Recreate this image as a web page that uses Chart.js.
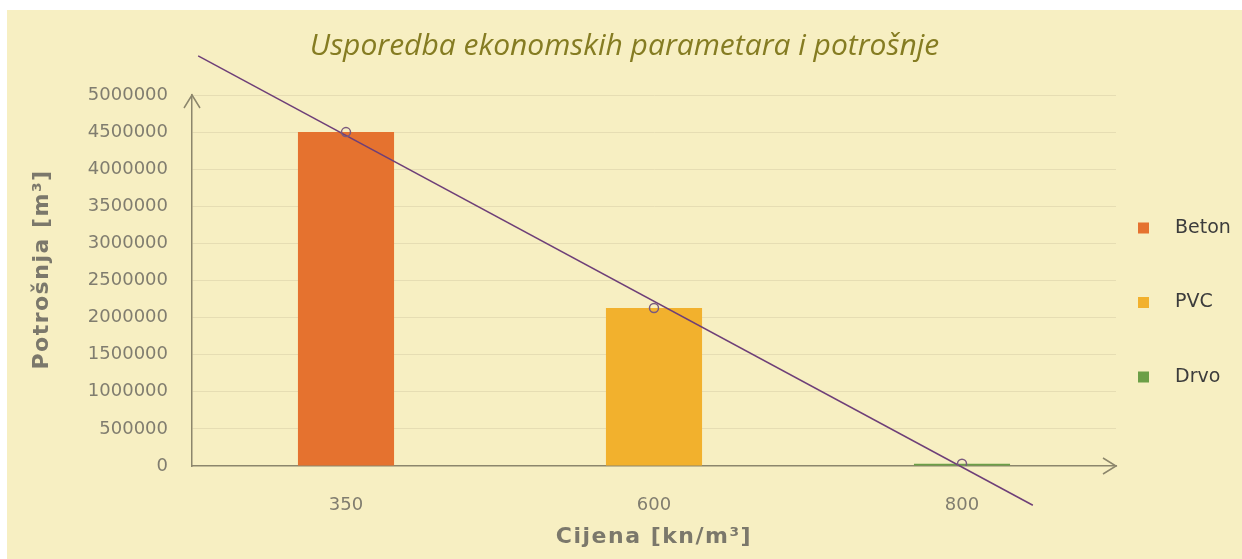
<!DOCTYPE html>
<html>
<head>
<meta charset="utf-8">
<script src="https://cdn.jsdelivr.net/npm/chart.js@4.4.0/dist/chart.umd.min.js"></script>
<style>
  html, body { margin: 0; padding: 0; background: #ffffff; }
  #wrap { position: absolute; left: 7px; top: 10px; width: 1235px; height: 549px; background: #f7efc2; }
</style>
</head>
<body>
<div id="wrap"><canvas id="myChart"></canvas></div>
<script>
// data
var categories = ['350', '600', '800'];
var materials = ['Beton', 'PVC', 'Drvo'];
var consumption = [4500000, 2130000, 30000];
var yMax = 5000000;
var yStep = 500000;

// styles
var barColors = ['#e5722f', '#f2b12d', '#6c9f47'];
var axisColor = '#8c866c';
var gridColor = '#e6ddb3';
var tickColor = '#807d6f';
var axisTitleColor = '#7b786b';

// linear trendline (least squares over category positions), drawn with forecast on both ends
function linearFit(values) {
    var n = values.length, sx = 0, sy = 0, sxx = 0, sxy = 0;
    values.forEach(function (v, i) {
        sx += i; sy += v; sxx += i * i; sxy += i * v;
    });
    var slope = (n * sxy - sx * sy) / (n * sxx - sx * sx);
    return { slope: slope, icpt: (sy - slope * sx) / n };
}
var fit = linearFit(consumption);
var trendFrom = -0.48, trendTo = 2.23;
var trendData = [trendFrom, trendTo].map(function (x) {
    return { x: x, y: fit.icpt + fit.slope * x };
});

// arrows, axis titles and legend
var decorations = {
    id: 'decorations',
    afterDraw: function (chart) {
        var c = chart.ctx, a = chart.chartArea;
        c.save();
        c.strokeStyle = axisColor;
        c.lineWidth = 1.5;
        c.beginPath();
        c.moveTo(a.left - 8, a.top + 13);
        c.lineTo(a.left, a.top);
        c.lineTo(a.left + 8, a.top + 13);
        c.moveTo(a.right - 13, a.bottom - 8);
        c.lineTo(a.right, a.bottom);
        c.lineTo(a.right - 13, a.bottom + 8);
        c.stroke();

        c.fillStyle = axisTitleColor;
        c.font = 'bold 22px "DejaVu Sans"';
        c.letterSpacing = '1.5px';
        c.textAlign = 'center';
        c.textBaseline = 'middle';
        c.fillText('Cijena [kn/m³]', (a.left + a.right) / 2, a.bottom + 71);
        c.save();
        c.translate(35, (a.top + a.bottom) / 2 - 11);
        c.rotate(-Math.PI / 2);
        c.fillText('Potrošnja [m³]', 0, 0);
        c.restore();

        c.letterSpacing = '0px';
        c.font = '19px "DejaVu Sans"';
        c.textAlign = 'left';
        materials.forEach(function (name, i) {
            var y = (a.top + a.bottom) / 2 + 22 + (i - 1) * 74.5;
            c.fillStyle = barColors[i];
            c.fillRect(a.right + 22, y - 5.5, 11, 11);
            c.fillStyle = '#3c3c3c';
            c.fillText(name, a.right + 59, y);
        });
        c.restore();
    }
};

var ctx = document.getElementById('myChart').getContext('2d');

var myChart = new Chart(ctx, {
    type: 'bar',
    data: {
        labels: categories,
        datasets: [{
            type: 'bar',
            label: 'Potrošnja',
            data: consumption,
            backgroundColor: barColors,
            grouped: false,
            categoryPercentage: 1,
            barPercentage: 0.312,
            order: 3
        }, {
            type: 'line',
            label: 'Trend',
            data: trendData,
            xAxisID: 'x2',
            borderColor: '#6e3f78',
            borderWidth: 1.5,
            pointRadius: 0,
            clip: false,
            order: 2
        }, {
            type: 'line',
            label: 'Točke',
            data: consumption,
            showLine: false,
            pointRadius: 4.5,
            pointBorderWidth: 1.5,
            pointBorderColor: '#7a5a7e',
            pointBackgroundColor: 'rgba(0, 0, 0, 0)',
            order: 1
        }]
    },
    options: {
        responsive: true,
        maintainAspectRatio: false,
        animation: false,
        layout: { padding: 0 },
        plugins: {
            legend: { display: false },
            tooltip: { enabled: false },
            title: {
                display: true,
                text: 'Usporedba ekonomskih parametara i potrošnje',
                color: '#857c22',
                font: { family: 'Open Sans', size: 30, style: 'italic', weight: 'normal', lineHeight: 1.2 },
                padding: { top: 18, bottom: 31 }
            }
        },
        scales: {
            x: {
                offset: true,
                grid: { display: false, drawTicks: false },
                border: { color: axisColor, width: 1.5 },
                ticks: { padding: 29, color: tickColor, font: { family: 'DejaVu Sans', size: 18 } },
                afterFit: function (scale) { scale.height = 93; }
            },
            x2: { type: 'linear', display: false, offset: false, min: -0.5, max: 2.5 },
            y: {
                min: 0,
                max: yMax,
                ticks: {
                    stepSize: yStep,
                    padding: 24,
                    color: tickColor,
                    font: { family: 'DejaVu Sans', size: 18 },
                    callback: function (v) { return String(v); }
                },
                grid: {
                    drawTicks: false,
                    color: function (c) { return c.tick && c.tick.value === 0 ? 'rgba(0,0,0,0)' : gridColor; }
                },
                border: { color: axisColor, width: 1.5 },
                afterFit: function (scale) { scale.width = 185; }
            },
            // empty right axis only keeps room for the legend
            yR: {
                position: 'right',
                grid: { display: false, drawTicks: false },
                border: { display: false },
                ticks: { display: false },
                afterFit: function (scale) { scale.width = 126; }
            }
        }
    },
    plugins: [decorations]
});
</script>
</body>
</html>
